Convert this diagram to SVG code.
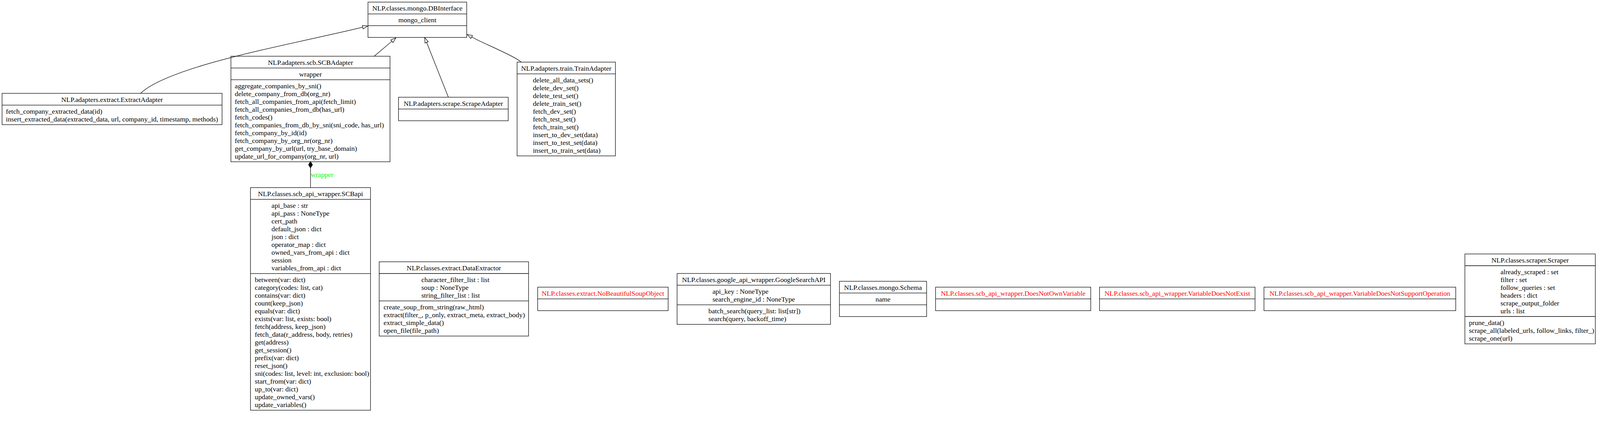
<svg xmlns="http://www.w3.org/2000/svg" width="4304" height="1111" viewBox="0 0 4304 1111">
<style>
.bx{fill:none;stroke:#000;stroke-width:1.33}
.t{font-family:"Liberation Serif","Times New Roman",Times,serif;font-size:18.67px;fill:#000}
.c{text-anchor:middle}
.red{fill:#f00}
.e{fill:none;stroke:#000;stroke-width:1.33}
.lbl{font-family:"Liberation Serif","Times New Roman",Times,serif;font-size:18.67px;fill:#0f0}
</style>
<defs>
<marker id="tri" markerUnits="userSpaceOnUse" markerWidth="17" markerHeight="12" viewBox="-1 -6 17 12" refX="0" refY="0" orient="auto">
<path d="M0,-4.67 L14,0 L0,4.67 Z" fill="#fff" stroke="#000" stroke-width="1.33"/>
</marker>
<marker id="dia" markerUnits="userSpaceOnUse" markerWidth="20" markerHeight="14" viewBox="-1 -7 20 14" refX="0" refY="0" orient="auto">
<path d="M0,0 L8.5,-5.3 L17,0 L8.5,5.3 Z" fill="#000" stroke="#000" stroke-width="1.33"/>
</marker>
</defs>
<rect x="0" y="0" width="4304" height="1111" fill="#fff"/>
<g id="diagram" transform="scale(0.95)">

<g id="connectors">
<path class="e" d="M378.8,251.5 C460,175 800,117 977.4,73.4" marker-end="url(#tri)"/>
<path class="e" d="M1008.3,151.5 L1056,111.2" marker-end="url(#tri)"/>
<path class="e" d="M1208.3,262 L1149.6,114.2" marker-end="url(#tri)"/>
<path class="e" d="M1404.4,167.4 C1385,150 1300,116 1271.1,99.7" marker-end="url(#tri)"/>
<path class="e" d="M836.7,505.6 L836.7,452.5" marker-end="url(#dia)"/>
<text class="lbl" x="837.3" y="477.3">wrapper</text>
</g>

<g id="DBInterface">
<rect class="bx" x="991.6" y="5.7" width="266" height="95.1"/>
<line class="bx" x1="991.6" y1="37.4" x2="1257.6" y2="37.4"/>
<line class="bx" x1="991.6" y1="69.1" x2="1257.6" y2="69.1"/>
<text class="t c" x="1124.6" y="28.7">NLP.classes.mongo.DBInterface</text>
<text class="t c" x="1124.6" y="60.4">mongo_client</text>
</g>

<g id="ExtractAdapter">
<rect class="bx" x="5.6" y="251.5" width="592.8" height="84.4"/>
<line class="bx" x1="5.6" y1="283.2" x2="598.4" y2="283.2"/>
<text class="t c" x="302" y="274.5">NLP.adapters.extract.ExtractAdapter</text>
<text class="t" x="15.8" y="306.2">fetch_company_extracted_data(id)<tspan x="15.8" dy="21.03">insert_extracted_data(extracted_data, url, company_id, timestamp, methods)</tspan></text>
</g>

<g id="SCBAdapter">
<rect class="bx" x="622.3" y="151.5" width="428.7" height="284.4"/>
<line class="bx" x1="622.3" y1="183.2" x2="1051" y2="183.2"/>
<line class="bx" x1="622.3" y1="214.9" x2="1051" y2="214.9"/>
<text class="t c" x="836.65" y="174.5">NLP.adapters.scb.SCBAdapter</text>
<text class="t c" x="836.65" y="206.2">wrapper</text>
<text class="t" x="632.7" y="237.9">aggregate_companies_by_sni()<tspan x="632.7" dy="21.03">delete_company_from_db(org_nr)</tspan><tspan x="632.7" dy="21.03">fetch_all_companies_from_api(fetch_limit)</tspan><tspan x="632.7" dy="21.03">fetch_all_companies_from_db(has_url)</tspan><tspan x="632.7" dy="21.03">fetch_codes()</tspan><tspan x="632.7" dy="21.03">fetch_companies_from_db_by_sni(sni_code, has_url)</tspan><tspan x="632.7" dy="21.03">fetch_company_by_id(id)</tspan><tspan x="632.7" dy="21.03">fetch_company_by_org_nr(org_nr)</tspan><tspan x="632.7" dy="21.03">get_company_by_url(url, try_base_domain)</tspan><tspan x="632.7" dy="21.03">update_url_for_company(org_nr, url)</tspan></text>
</g>

<g id="ScrapeAdapter">
<rect class="bx" x="1073.9" y="262" width="295.6" height="63.4"/>
<line class="bx" x1="1073.9" y1="293.7" x2="1369.5" y2="293.7"/>
<text class="t c" x="1221.7" y="285">NLP.adapters.scrape.ScrapeAdapter</text>
</g>

<g id="TrainAdapter">
<rect class="bx" x="1393.4" y="167.4" width="265" height="252.7"/>
<line class="bx" x1="1393.4" y1="199.1" x2="1658.4" y2="199.1"/>
<text class="t c" x="1525.9" y="190.4">NLP.adapters.train.TrainAdapter</text>
<text class="t" x="1436" y="222.1">delete_all_data_sets()<tspan x="1436" dy="21.03">delete_dev_set()</tspan><tspan x="1436" dy="21.03">delete_test_set()</tspan><tspan x="1436" dy="21.03">delete_train_set()</tspan><tspan x="1436" dy="21.03">fetch_dev_set()</tspan><tspan x="1436" dy="21.03">fetch_test_set()</tspan><tspan x="1436" dy="21.03">fetch_train_set()</tspan><tspan x="1436" dy="21.03">insert_to_dev_set(data)</tspan><tspan x="1436" dy="21.03">insert_to_test_set(data)</tspan><tspan x="1436" dy="21.03">insert_to_train_set(data)</tspan></text>
</g>

<g id="SCBapi">
<rect class="bx" x="675" y="505.6" width="323.4" height="599.8"/>
<line class="bx" x1="675" y1="537.3" x2="998.4" y2="537.3"/>
<line class="bx" x1="675" y1="737.2" x2="998.4" y2="737.2"/>
<text class="t c" x="836.7" y="528.6">NLP.classes.scb_api_wrapper.SCBapi</text>
<text class="t" x="731.7" y="560.3">api_base : str<tspan x="731.7" dy="21.03">api_pass : NoneType</tspan><tspan x="731.7" dy="21.03">cert_path</tspan><tspan x="731.7" dy="21.03">default_json : dict</tspan><tspan x="731.7" dy="21.03">json : dict</tspan><tspan x="731.7" dy="21.03">operator_map : dict</tspan><tspan x="731.7" dy="21.03">owned_vars_from_api : dict</tspan><tspan x="731.7" dy="21.03">session</tspan><tspan x="731.7" dy="21.03">variables_from_api : dict</tspan></text>
<text class="t" x="686.7" y="760.2">between(var: dict)<tspan x="686.7" dy="21.03">category(codes: list, cat)</tspan><tspan x="686.7" dy="21.03">contains(var: dict)</tspan><tspan x="686.7" dy="21.03">count(keep_json)</tspan><tspan x="686.7" dy="21.03">equals(var: dict)</tspan><tspan x="686.7" dy="21.03">exists(var: list, exists: bool)</tspan><tspan x="686.7" dy="21.03">fetch(address, keep_json)</tspan><tspan x="686.7" dy="21.03">fetch_data(r_address, body, retries)</tspan><tspan x="686.7" dy="21.03">get(address)</tspan><tspan x="686.7" dy="21.03">get_session()</tspan><tspan x="686.7" dy="21.03">prefix(var: dict)</tspan><tspan x="686.7" dy="21.03">reset_json()</tspan><tspan x="686.7" dy="21.03">sni(codes: list, level: int, exclusion: bool)</tspan><tspan x="686.7" dy="21.03">start_from(var: dict)</tspan><tspan x="686.7" dy="21.03">up_to(var: dict)</tspan><tspan x="686.7" dy="21.03">update_owned_vars()</tspan><tspan x="686.7" dy="21.03">update_variables()</tspan></text>
</g>

<g id="DataExtractor">
<rect class="bx" x="1021.8" y="705.4" width="402.5" height="200.2"/>
<line class="bx" x1="1021.8" y1="737.1" x2="1424.3" y2="737.1"/>
<line class="bx" x1="1021.8" y1="810.8" x2="1424.3" y2="810.8"/>
<text class="t c" x="1223.05" y="728.4">NLP.classes.extract.DataExtractor</text>
<text class="t" x="1135.5" y="760.1">character_filter_list : list<tspan x="1135.5" dy="21.03">soup : NoneType</tspan><tspan x="1135.5" dy="21.03">string_filter_list : list</tspan></text>
<text class="t" x="1033.6" y="833.8">create_soup_from_string(raw_html)<tspan x="1033.6" dy="21.03">extract(filter_, p_only, extract_meta, extract_body)</tspan><tspan x="1033.6" dy="21.03">extract_simple_data()</tspan><tspan x="1033.6" dy="21.03">open_file(file_path)</tspan></text>
</g>

<g id="NoBeautifulSoupObject">
<rect class="bx" x="1448.9" y="773.8" width="351.6" height="63.4"/>
<line class="bx" x1="1448.9" y1="805.5" x2="1800.5" y2="805.5"/>
<text class="t c red" x="1624.7" y="796.8">NLP.classes.extract.NoBeautifulSoupObject</text>
</g>

<g id="GoogleSearchAPI">
<rect class="bx" x="1824.6" y="736.9" width="413.4" height="137.2"/>
<line class="bx" x1="1824.6" y1="768.6" x2="2238" y2="768.6"/>
<line class="bx" x1="1824.6" y1="821.4" x2="2238" y2="821.4"/>
<text class="t c" x="2031.3" y="759.9">NLP.classes.google_api_wrapper.GoogleSearchAPI</text>
<text class="t" x="1919.9" y="791.6">api_key : NoneType<tspan x="1919.9" dy="21.03">search_engine_id : NoneType</tspan></text>
<text class="t" x="1909" y="844.4">batch_search(query_list: list[str])<tspan x="1909" dy="21.03">search(query, backoff_time)</tspan></text>
</g>

<g id="Schema">
<rect class="bx" x="2262" y="757.95" width="235" height="95.1"/>
<line class="bx" x1="2262" y1="789.65" x2="2497" y2="789.65"/>
<line class="bx" x1="2262" y1="821.35" x2="2497" y2="821.35"/>
<text class="t c" x="2379.5" y="780.95">NLP.classes.mongo.Schema</text>
<text class="t c" x="2379.5" y="812.65">name</text>
</g>

<g id="DoesNotOwnVariable">
<rect class="bx" x="2521.1" y="773.8" width="418.2" height="63.4"/>
<line class="bx" x1="2521.1" y1="805.5" x2="2939.3" y2="805.5"/>
<text class="t c red" x="2730.2" y="796.8">NLP.classes.scb_api_wrapper.DoesNotOwnVariable</text>
</g>

<g id="VariableDoesNotExist">
<rect class="bx" x="2962.9" y="773.8" width="419.1" height="63.4"/>
<line class="bx" x1="2962.9" y1="805.5" x2="3382" y2="805.5"/>
<text class="t c red" x="3172.45" y="796.8">NLP.classes.scb_api_wrapper.VariableDoesNotExist</text>
</g>

<g id="VariableDoesNotSupportOperation">
<rect class="bx" x="3406" y="773.8" width="516.8" height="63.4"/>
<line class="bx" x1="3406" y1="805.5" x2="3922.8" y2="805.5"/>
<text class="t c red" x="3664.4" y="796.8">NLP.classes.scb_api_wrapper.VariableDoesNotSupportOperation</text>
</g>

<g id="Scraper">
<rect class="bx" x="3947.5" y="684.35" width="351.5" height="242.3"/>
<line class="bx" x1="3947.5" y1="716.05" x2="4299" y2="716.05"/>
<line class="bx" x1="3947.5" y1="852.9" x2="4299" y2="852.9"/>
<text class="t c" x="4123.25" y="707.35">NLP.classes.scraper.Scraper</text>
<text class="t" x="4043.3" y="739.05">already_scraped : set<tspan x="4043.3" dy="21.03">filter : set</tspan><tspan x="4043.3" dy="21.03">follow_queries : set</tspan><tspan x="4043.3" dy="21.03">headers : dict</tspan><tspan x="4043.3" dy="21.03">scrape_output_folder</tspan><tspan x="4043.3" dy="21.03">urls : list</tspan></text>
<text class="t" x="3958.3" y="875.9">prune_data()<tspan x="3958.3" dy="21.03">scrape_all(labeled_urls, follow_links, filter_)</tspan><tspan x="3958.3" dy="21.03">scrape_one(url)</tspan></text>
</g>
</g>
</svg>
